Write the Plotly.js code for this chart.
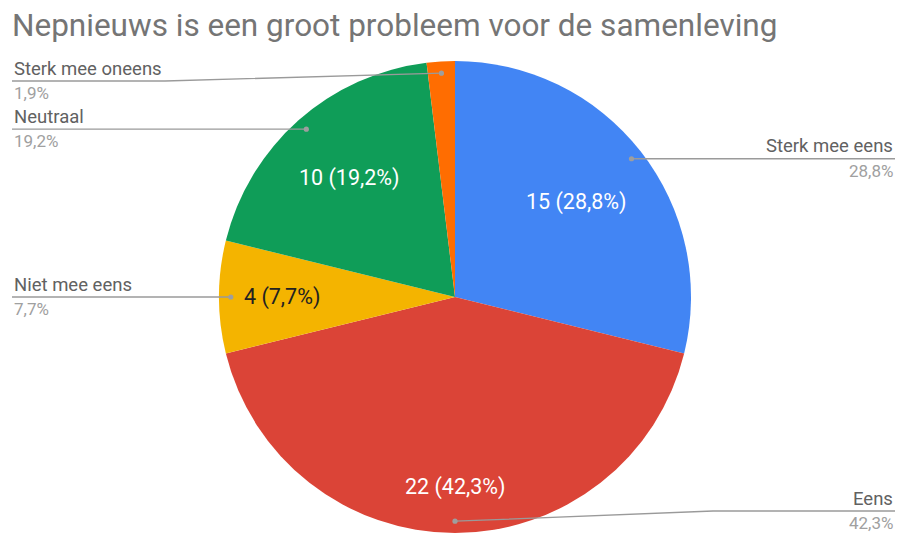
<!DOCTYPE html>
<html><head><meta charset="utf-8">
<script src="https://cdn.plot.ly/plotly-3.0.1.min.js"></script>
<style>html,body{margin:0;padding:0;background:#fff}#chart{width:898px;height:534px}</style>
</head><body><div id="chart"></div>
<script>
// ---- data ----
const categories = ['Sterk mee eens', 'Eens', 'Niet mee eens', 'Neutraal', 'Sterk mee oneens'];
const counts = [15, 22, 4, 10, 1];
const chartTitle = 'Nepnieuws is een groot probleem voor de samenleving';

// ---- style / layout config ----
const colors = ['#4285F4', '#DB4437', '#F4B400', '#0F9D58', '#FF6D01'];
const insideTextColors = ['#ffffff', '#ffffff', '#222222', '#ffffff', null];
const insideLabelRadius = [0.655, 0.805, 0.733, 0.672, null];
const W = 898, H = 534, cx = 455, cy = 297, R = 236;
const FONT = 'Roboto, Arial, sans-serif';
const dotRadiusFrac = 0.95;
const labelMinY = 81, labelMaxY = 511;
const leftX = 12, rightX = 895;
const leftElbow = 165, rightElbow = 713;
const lineColor = '#9a9a9a';

const total = counts.reduce((a, b) => a + b, 0);
const pct = v => (v / total * 100).toFixed(1).replace('.', ',') + '%';

const pie = {
  type: 'pie',
  labels: categories,
  values: counts,
  sort: false,
  direction: 'clockwise',
  rotation: 0,
  marker: {colors: colors, line: {width: 0}},
  textinfo: 'none',
  hoverinfo: 'label+value+percent',
  showlegend: false,
  domain: {
    x: [(cx - R) / W, (cx + R) / W],
    y: [(H - cy - R) / H, (H - cy + R) / H]
  }
};

const shapes = [];
const annotations = [];
let cum = 0;
counts.forEach((v, i) => {
  const mid = (cum + v / 2) / total * 2 * Math.PI;
  cum += v;
  const s = Math.sin(mid), c = Math.cos(mid);
  // inside label
  if (insideLabelRadius[i] !== null) {
    const rr = insideLabelRadius[i] * R;
    annotations.push({
      xref: 'x', yref: 'y', x: cx + s * rr, y: cy - c * rr,
      text: v + ' (' + pct(v) + ')', showarrow: false,
      xanchor: 'center', yanchor: 'middle',
      font: {family: FONT, size: 21.5, color: insideTextColors[i]}
    });
  }
  // leader dot
  const dr = dotRadiusFrac * R;
  const dx = cx + s * dr, dy = cy - c * dr;
  const ly = Math.min(labelMaxY, Math.max(labelMinY, dy));
  const left = s < 0;
  const edge = left ? leftX : rightX;
  const elbow = left ? leftElbow : rightElbow;
  let path;
  if (Math.abs(ly - dy) < 1.5) {
    path = `M ${edge} ${ly} L ${dx} ${ly}`;
  } else {
    path = `M ${edge} ${ly} L ${elbow} ${ly} L ${dx} ${dy}`;
  }
  shapes.push({type: 'path', xref: 'x', yref: 'y', path: path,
    line: {color: lineColor, width: 1.3}, layer: 'above'});
  shapes.push({type: 'circle', xref: 'x', yref: 'y',
    x0: dx - 2.6, x1: dx + 2.6, y0: dy - 2.6, y1: dy + 2.6,
    fillcolor: '#9e9e9e', line: {width: 0}, layer: 'above'});
  annotations.push({
    xref: 'x', yref: 'y', x: edge, y: ly + 0.5, text: categories[i], showarrow: false,
    xanchor: left ? 'left' : 'right', yanchor: 'bottom',
    font: {family: FONT, size: 18.5, color: '#616161'}
  });
  annotations.push({
    xref: 'x', yref: 'y', x: edge, y: ly, text: pct(v), showarrow: false,
    xanchor: left ? 'left' : 'right', yanchor: 'top',
    font: {family: FONT, size: 17, color: '#a0a0a0'}
  });
});

const layout = {
  width: W, height: H,
  margin: {l: 0, r: 0, t: 0, b: 0},
  paper_bgcolor: '#ffffff', plot_bgcolor: '#ffffff',
  title: {
    text: chartTitle, x: 12 / W, xanchor: 'left', xref: 'paper',
    y: 1 - 25 / H, yanchor: 'middle', yref: 'container',
    font: {family: FONT, size: 31.5, color: '#757575'}
  },
  xaxis: {range: [0, W], visible: false, fixedrange: true, domain: [0, 1]},
  yaxis: {range: [H, 0], visible: false, fixedrange: true, domain: [0, 1]},
  shapes: shapes,
  annotations: annotations,
  showlegend: false
};

Plotly.newPlot('chart', [pie], layout, {displayModeBar: false, staticPlot: true});
</script>
</body></html>
